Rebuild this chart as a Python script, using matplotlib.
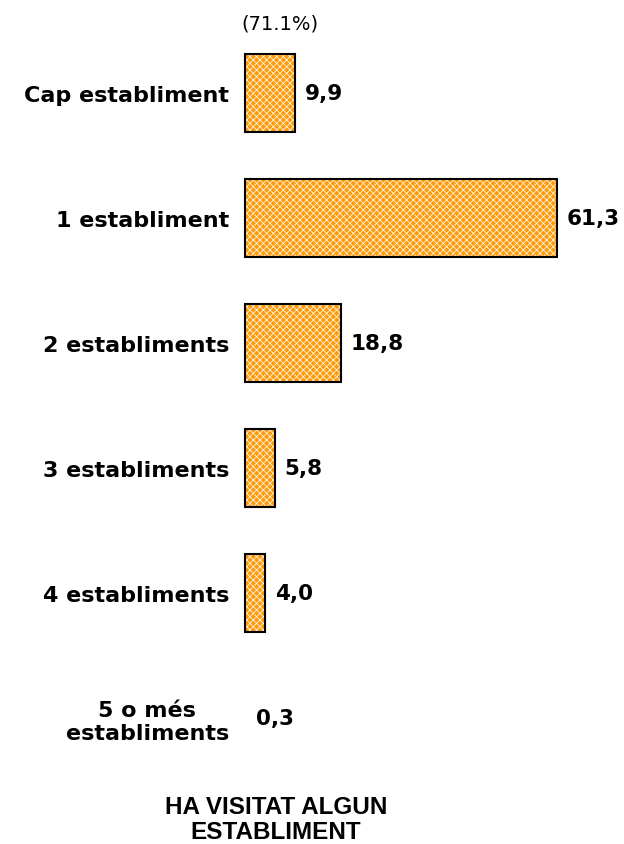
import matplotlib
matplotlib.use("Agg")
import matplotlib.pyplot as plt

categories = ["Cap establiment", "1 establiment", "2 establiments",
              "3 establiments", "4 establiments", "5 o més\nestabliments"]
values = [9.9, 61.3, 18.8, 5.8, 4.0, 0.3]
value_labels = ["9,9", "61,3", "18,8", "5,8", "4,0", "0,3"]
subtitle = "(71.1%)"
title = "HA VISITAT ALGUN\nESTABLIMENT"

plt.rcParams['hatch.linewidth'] = 0.6

fig = plt.figure(figsize=(6.24, 8.45), dpi=100)
# axes spans bar area: left edge of bars at x=245px, rows 125px apart
ax = fig.add_axes([245 / 624, 1 - 781.5 / 845, 355 / 624, 750 / 845])

ypos = list(range(len(categories)))
# tiny bar (0,3) is not visible in the original, so no fill/outline for it
fills = ["#FF9A0A" if v >= 1 else "none" for v in values]
outline = [1.5 if v >= 1 else 0 for v in values]
hatched = ax.barh(ypos, values, height=0.62, color=fills, edgecolor="#FFF2DD",
                  linewidth=0, hatch="xxxxx")
for p, v in zip(hatched, values):
    if v < 1:
        p.set_hatch(None)
outl = ax.barh(ypos, values, height=0.62, fill=False, edgecolor="black", linewidth=outline)
for p in outl:
    p.set_clip_on(False)

for y, v, lab in zip(ypos, values, value_labels):
    ax.annotate(lab, (v, y), xytext=(7, 0), textcoords="offset points",
                ha="left", va="center", fontsize=15.5, fontweight="bold")

ax.set_xlim(0, 355 / 5.09)
ax.set_ylim(len(categories) - 0.5, -0.5)
ax.set_yticks(ypos)
ax.set_yticklabels(categories, fontsize=16, fontweight="bold",
                   ha="right", multialignment="center")
ax.tick_params(axis="y", length=0, pad=11.5)
ax.set_xticks([])
for s in ax.spines.values():
    s.set_visible(False)

fig.text(280 / 624, 1 - 24 / 845, subtitle, ha="center", va="center", fontsize=14)
fig.text(276 / 624, 1 - 820 / 845, title, ha="center", va="center",
         fontsize=17.5, fontweight="bold", family="Liberation Sans", linespacing=1.15)

fig.savefig("out.png", dpi=100)
